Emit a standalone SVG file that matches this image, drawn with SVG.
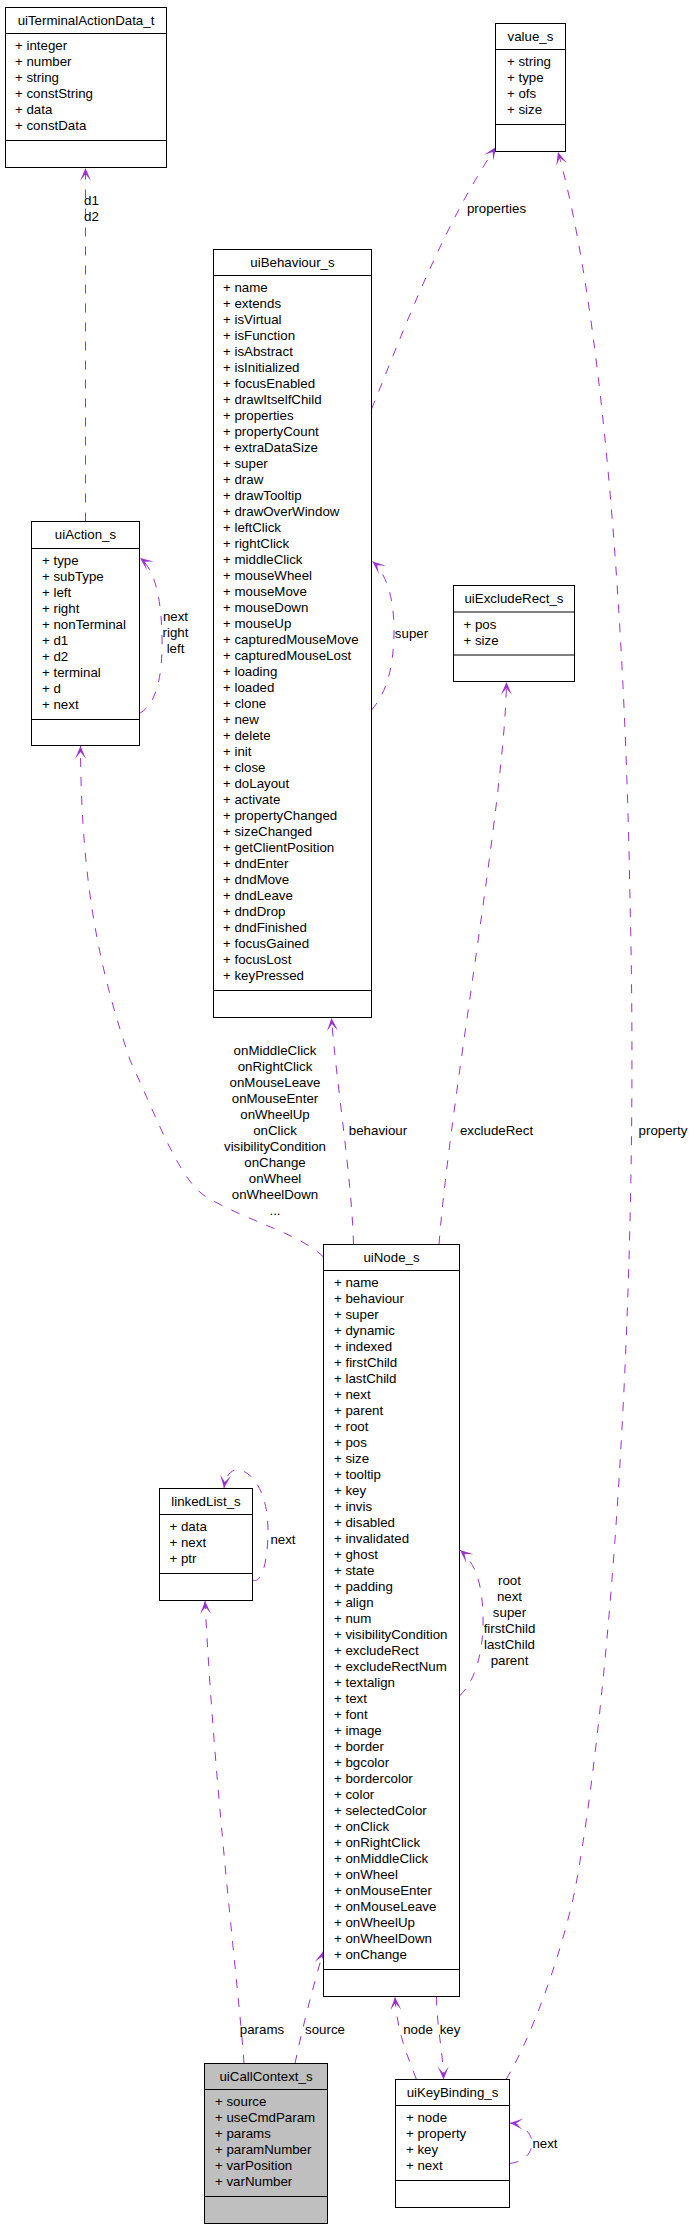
<svg xmlns="http://www.w3.org/2000/svg" width="691" height="2229" viewBox="0 0 691 2229">
<style>
.bg{fill:#fff}
.box{fill:#fff;stroke:#000;stroke-width:1}
.grey{fill:#bfbfbf}
.sep{stroke:#000;stroke-width:1}
text{font-family:"Liberation Sans",Arial,Helvetica,sans-serif;font-size:13.3px;fill:#000}
.c{text-anchor:middle}
.e{fill:none;stroke:#9a32cd;stroke-width:1;stroke-dasharray:9,10;marker-end:url(#ah)}
</style>
<defs>
<marker id="ah" viewBox="-14 -7 15 14" refX="0" refY="0" markerWidth="15" markerHeight="14" orient="auto" markerUnits="userSpaceOnUse">
<path d="M0,0 L-13,-5.5 L-6,0 L-13,5.5 Z" fill="#9a32cd"/>
</marker>
</defs>
<rect class="bg" x="0" y="0" width="691" height="2229"/>

<g id="connectors">
<path class="e" d="M85.5,521.5 L85.5,168"/>
<text class="c" x="91.5" y="204.5">d1</text>
<text class="c" x="91.5" y="220.5">d2</text>

<path class="e" d="M139.5,713.5 C155,705 163,680 162,636 C161,592 153,568 140,558"/>
<text class="c" x="175.5" y="621">next</text>
<text class="c" x="175.5" y="637">right</text>
<text class="c" x="175.5" y="653">left</text>

<path class="e" d="M371.5,409 C400,340 440,230 496,147"/>
<text class="c" x="496.5" y="212.5">properties</text>

<path class="e" d="M371.5,710 C385,695 394,670 394,630 C394,595 385,572 372.5,561.5"/>
<text class="c" x="411.5" y="638">super</text>

<path class="e" d="M353.5,1244.5 C352,1180 336,1080 331.5,1018"/>
<text class="c" x="378" y="1135">behaviour</text>

<path class="e" d="M439,1244.5 C450,1100 505,800 506.5,682"/>
<text class="c" x="496.5" y="1135">excludeRect</text>

<path class="e" d="M323.5,1257 C300,1234 250,1222 208,1198 C180,1182 160,1125 130,1060 C105,985 81,900 80.5,746"/>
<text class="c" x="275" y="1055">onMiddleClick</text>
<text class="c" x="275" y="1071">onRightClick</text>
<text class="c" x="275" y="1087">onMouseLeave</text>
<text class="c" x="275" y="1103">onMouseEnter</text>
<text class="c" x="275" y="1119">onWheelUp</text>
<text class="c" x="275" y="1135">onClick</text>
<text class="c" x="275" y="1151">visibilityCondition</text>
<text class="c" x="275" y="1167">onChange</text>
<text class="c" x="275" y="1183">onWheel</text>
<text class="c" x="275" y="1199">onWheelDown</text>
<text class="c" x="275" y="1215">...</text>

<path class="e" d="M459.5,1696 C476,1680 484,1650 483,1615 C482,1580 474,1562 460,1550"/>
<text class="c" x="509.5" y="1584.5">root</text>
<text class="c" x="509.5" y="1600.5">next</text>
<text class="c" x="509.5" y="1616.5">super</text>
<text class="c" x="509.5" y="1632.5">firstChild</text>
<text class="c" x="509.5" y="1648.5">lastChild</text>
<text class="c" x="509.5" y="1664.5">parent</text>

<path class="e" d="M252.5,1580 C262,1585 268,1560 268,1530 C268,1490 250,1468 235,1470 C228,1472 225,1480 224,1488"/>
<text class="c" x="283" y="1544">next</text>

<path class="e" d="M244,2063.5 C240,2000 215,1800 205,1601"/>
<text class="c" x="262" y="2033.5">params</text>

<path class="e" d="M295,2063.5 C302,2030 312,1990 323.5,1951"/>
<text class="c" x="325" y="2033.5">source</text>

<path class="e" d="M416.5,2079.5 C405,2050 397,2030 395,1997"/>
<text class="c" x="418" y="2033.5">node</text>

<path class="e" d="M436.5,1996.5 C437,2030 443,2050 443.5,2079.5"/>
<text class="c" x="450" y="2033.5">key</text>

<path class="e" d="M506,2079.5 C530,2040 560,1960 575,1890 C610,1700 640,1300 630,900 C625,600 600,300 558,152"/>
<text class="c" x="663" y="1135">property</text>

<path class="e" d="M509.5,2163.5 C525,2162 532,2152 532,2143 C532,2133 522,2124 510,2123"/>
<text class="c" x="545" y="2148">next</text>
</g>

<g id="uiTerminalActionData_t">
<rect class="box" x="5.5" y="7.5" width="161" height="160"/>
<line class="sep" x1="5.5" y1="33.5" x2="166.5" y2="33.5"/>
<line class="sep" x1="5.5" y1="140.5" x2="166.5" y2="140.5"/>
<text class="c" x="86" y="24.5">uiTerminalActionData_t</text>
<text x="15" y="50">+ integer</text>
<text x="15" y="66">+ number</text>
<text x="15" y="82">+ string</text>
<text x="15" y="98">+ constString</text>
<text x="15" y="114">+ data</text>
<text x="15" y="130">+ constData</text>
</g>

<g id="value_s">
<rect class="box" x="495.5" y="23.5" width="70" height="128"/>
<line class="sep" x1="495.5" y1="49.5" x2="565.5" y2="49.5"/>
<line class="sep" x1="495.5" y1="124.5" x2="565.5" y2="124.5"/>
<text class="c" x="530.5" y="40.5">value_s</text>
<text x="507" y="66">+ string</text>
<text x="507" y="82">+ type</text>
<text x="507" y="98">+ ofs</text>
<text x="507" y="114">+ size</text>
</g>

<g id="uiBehaviour_s">
<rect class="box" x="213.5" y="249.5" width="158" height="768"/>
<line class="sep" x1="213.5" y1="275.5" x2="371.5" y2="275.5"/>
<line class="sep" x1="213.5" y1="990.5" x2="371.5" y2="990.5"/>
<text class="c" x="292.5" y="266.5">uiBehaviour_s</text>
<text x="223" y="292">+ name</text>
<text x="223" y="308">+ extends</text>
<text x="223" y="324">+ isVirtual</text>
<text x="223" y="340">+ isFunction</text>
<text x="223" y="356">+ isAbstract</text>
<text x="223" y="372">+ isInitialized</text>
<text x="223" y="388">+ focusEnabled</text>
<text x="223" y="404">+ drawItselfChild</text>
<text x="223" y="420">+ properties</text>
<text x="223" y="436">+ propertyCount</text>
<text x="223" y="452">+ extraDataSize</text>
<text x="223" y="468">+ super</text>
<text x="223" y="484">+ draw</text>
<text x="223" y="500">+ drawTooltip</text>
<text x="223" y="516">+ drawOverWindow</text>
<text x="223" y="532">+ leftClick</text>
<text x="223" y="548">+ rightClick</text>
<text x="223" y="564">+ middleClick</text>
<text x="223" y="580">+ mouseWheel</text>
<text x="223" y="596">+ mouseMove</text>
<text x="223" y="612">+ mouseDown</text>
<text x="223" y="628">+ mouseUp</text>
<text x="223" y="644">+ capturedMouseMove</text>
<text x="223" y="660">+ capturedMouseLost</text>
<text x="223" y="676">+ loading</text>
<text x="223" y="692">+ loaded</text>
<text x="223" y="708">+ clone</text>
<text x="223" y="724">+ new</text>
<text x="223" y="740">+ delete</text>
<text x="223" y="756">+ init</text>
<text x="223" y="772">+ close</text>
<text x="223" y="788">+ doLayout</text>
<text x="223" y="804">+ activate</text>
<text x="223" y="820">+ propertyChanged</text>
<text x="223" y="836">+ sizeChanged</text>
<text x="223" y="852">+ getClientPosition</text>
<text x="223" y="868">+ dndEnter</text>
<text x="223" y="884">+ dndMove</text>
<text x="223" y="900">+ dndLeave</text>
<text x="223" y="916">+ dndDrop</text>
<text x="223" y="932">+ dndFinished</text>
<text x="223" y="948">+ focusGained</text>
<text x="223" y="964">+ focusLost</text>
<text x="223" y="980">+ keyPressed</text>
</g>

<g id="uiAction_s">
<rect class="box" x="31.5" y="521.5" width="108" height="224"/>
<line class="sep" x1="31.5" y1="548.5" x2="139.5" y2="548.5"/>
<line class="sep" x1="31.5" y1="719.5" x2="139.5" y2="719.5"/>
<text class="c" x="85.5" y="539">uiAction_s</text>
<text x="42" y="565">+ type</text>
<text x="42" y="581">+ subType</text>
<text x="42" y="597">+ left</text>
<text x="42" y="613">+ right</text>
<text x="42" y="629">+ nonTerminal</text>
<text x="42" y="645">+ d1</text>
<text x="42" y="661">+ d2</text>
<text x="42" y="677">+ terminal</text>
<text x="42" y="693">+ d</text>
<text x="42" y="709">+ next</text>
</g>

<g id="uiExcludeRect_s">
<rect class="box" x="453.5" y="585.5" width="121" height="96"/>
<line class="sep" x1="453.5" y1="612" x2="574.5" y2="612"/>
<line class="sep" x1="453.5" y1="655" x2="574.5" y2="655"/>
<text class="c" x="514" y="603">uiExcludeRect_s</text>
<text x="463.5" y="628.5">+ pos</text>
<text x="463.5" y="644.5">+ size</text>
</g>

<g id="uiNode_s">
<rect class="box" x="323.5" y="1244.5" width="136" height="752"/>
<line class="sep" x1="323.5" y1="1270.5" x2="459.5" y2="1270.5"/>
<line class="sep" x1="323.5" y1="1969.5" x2="459.5" y2="1969.5"/>
<text class="c" x="391.5" y="1261.5">uiNode_s</text>
<text x="334" y="1287">+ name</text>
<text x="334" y="1303">+ behaviour</text>
<text x="334" y="1319">+ super</text>
<text x="334" y="1335">+ dynamic</text>
<text x="334" y="1351">+ indexed</text>
<text x="334" y="1367">+ firstChild</text>
<text x="334" y="1383">+ lastChild</text>
<text x="334" y="1399">+ next</text>
<text x="334" y="1415">+ parent</text>
<text x="334" y="1431">+ root</text>
<text x="334" y="1447">+ pos</text>
<text x="334" y="1463">+ size</text>
<text x="334" y="1479">+ tooltip</text>
<text x="334" y="1495">+ key</text>
<text x="334" y="1511">+ invis</text>
<text x="334" y="1527">+ disabled</text>
<text x="334" y="1543">+ invalidated</text>
<text x="334" y="1559">+ ghost</text>
<text x="334" y="1575">+ state</text>
<text x="334" y="1591">+ padding</text>
<text x="334" y="1607">+ align</text>
<text x="334" y="1623">+ num</text>
<text x="334" y="1639">+ visibilityCondition</text>
<text x="334" y="1655">+ excludeRect</text>
<text x="334" y="1671">+ excludeRectNum</text>
<text x="334" y="1687">+ textalign</text>
<text x="334" y="1703">+ text</text>
<text x="334" y="1719">+ font</text>
<text x="334" y="1735">+ image</text>
<text x="334" y="1751">+ border</text>
<text x="334" y="1767">+ bgcolor</text>
<text x="334" y="1783">+ bordercolor</text>
<text x="334" y="1799">+ color</text>
<text x="334" y="1815">+ selectedColor</text>
<text x="334" y="1831">+ onClick</text>
<text x="334" y="1847">+ onRightClick</text>
<text x="334" y="1863">+ onMiddleClick</text>
<text x="334" y="1879">+ onWheel</text>
<text x="334" y="1895">+ onMouseEnter</text>
<text x="334" y="1911">+ onMouseLeave</text>
<text x="334" y="1927">+ onWheelUp</text>
<text x="334" y="1943">+ onWheelDown</text>
<text x="334" y="1959">+ onChange</text>
</g>

<g id="linkedList_s">
<rect class="box" x="159.5" y="1488.5" width="93" height="112"/>
<line class="sep" x1="159.5" y1="1514.5" x2="252.5" y2="1514.5"/>
<line class="sep" x1="159.5" y1="1573.5" x2="252.5" y2="1573.5"/>
<text class="c" x="206" y="1505.5">linkedList_s</text>
<text x="169.5" y="1531">+ data</text>
<text x="169.5" y="1547">+ next</text>
<text x="169.5" y="1563">+ ptr</text>
</g>

<g id="uiCallContext_s">
<rect class="box grey" x="204.5" y="2063.5" width="123" height="160"/>
<line class="sep" x1="204.5" y1="2089.5" x2="327.5" y2="2089.5"/>
<line class="sep" x1="204.5" y1="2196.5" x2="327.5" y2="2196.5"/>
<text class="c" x="266" y="2080.5">uiCallContext_s</text>
<text x="215" y="2106">+ source</text>
<text x="215" y="2122">+ useCmdParam</text>
<text x="215" y="2138">+ params</text>
<text x="215" y="2154">+ paramNumber</text>
<text x="215" y="2170">+ varPosition</text>
<text x="215" y="2186">+ varNumber</text>
</g>

<g id="uiKeyBinding_s">
<rect class="box" x="395.5" y="2079.5" width="114" height="128"/>
<line class="sep" x1="395.5" y1="2105.5" x2="509.5" y2="2105.5"/>
<line class="sep" x1="395.5" y1="2180.5" x2="509.5" y2="2180.5"/>
<text class="c" x="452.5" y="2096.5">uiKeyBinding_s</text>
<text x="406" y="2122">+ node</text>
<text x="406" y="2138">+ property</text>
<text x="406" y="2154">+ key</text>
<text x="406" y="2170">+ next</text>
</g>
</svg>
